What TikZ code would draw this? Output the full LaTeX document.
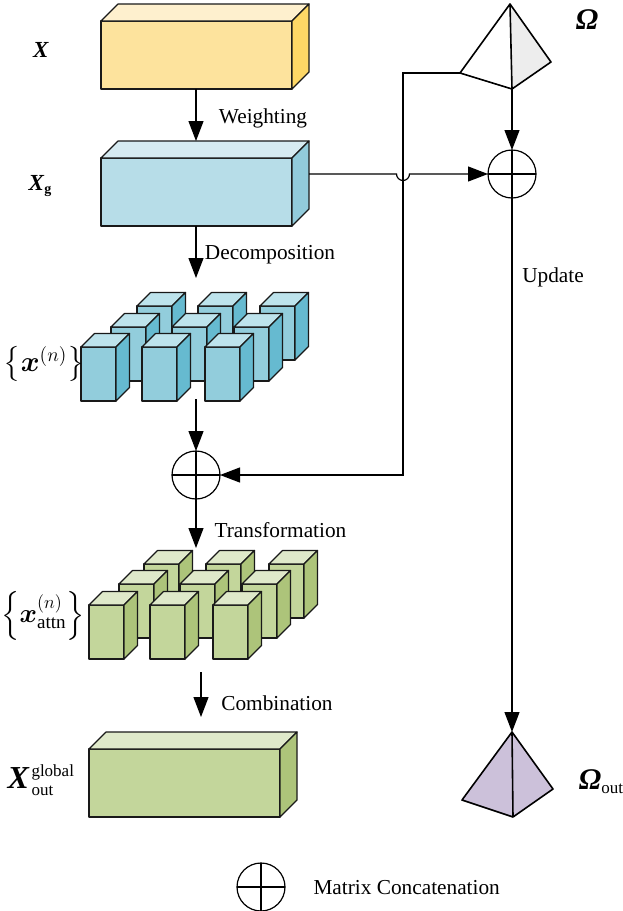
\documentclass[tikz,border=0pt]{standalone}
\usepackage{amsmath}
\usepackage{amssymb}
\usepackage{fontspec}
\setmainfont{Liberation Serif}
\usetikzlibrary{arrows.meta,calc}

\definecolor{yellowF}{HTML}{FDE39D}
\definecolor{yellowT}{HTML}{FEF0CE}
\definecolor{yellowS}{HTML}{FDD766}
\definecolor{paleF}{HTML}{B7DDE8}
\definecolor{paleT}{HTML}{D6EAF1}
\definecolor{paleS}{HTML}{92CBDB}
\definecolor{blueF}{HTML}{92CDDC}
\definecolor{blueT}{HTML}{BDE3EC}
\definecolor{blueS}{HTML}{66BAD0}
\definecolor{greenF}{HTML}{C3D69B}
\definecolor{greenT}{HTML}{DFE9CA}
\definecolor{greenS}{HTML}{ADC47A}
\definecolor{lilacF}{HTML}{CCC1DA}

\tikzset{
  every node/.style={font=\fontsize{21.3}{25}\selectfont},
  face/.style={draw=black!90,line width=1.2pt,line join=round},
  arr/.style={-{Triangle[length=20pt,width=15pt]},line width=1.2pt,black},
  line/.style={line width=1.2pt,black},
  concat/.style={circle,draw=black,line width=1.2pt,minimum size=48pt,inner sep=0pt,outer sep=0pt},
  pyr/.style={draw=black,line width=1.6pt,line join=round},
}

% name, left, top, width, height, depth, colour prefix
\newcommand{\cuboid}[7]{
  \node[face,fill=#7F,anchor=north west,minimum width=#4pt,minimum height=#5pt,inner sep=0pt,outer sep=0pt] (#1) at (#2,#3) {};
  \fill[#7T,face] (#1.north west) -- ++(#6,-#6) -- ++(#4,0) -- (#1.north east) -- cycle;
  \fill[#7S,face] (#1.north east) -- ++(#6,-#6) -- ++(0,#5) -- (#1.south east) -- cycle;
}

\begin{document}
\begin{tikzpicture}[x=1pt,y=-1pt]
  \useasboundingbox (0,0) rectangle (623,911);

  % big blocks
  \cuboid{inp}{101}{21}{191}{68}{17}{yellow}
  \cuboid{weighted}{101}{158}{191}{68}{17}{pale}
  \cuboid{combined}{89}{749}{191}{68}{17}{green}

  % blue cubes, back row first
  \foreach \n/\cx/\cy in {a/137/306, b/198/306, c/260/306,
                          d/111/327, e/172/327, f/234/327,
                          g/81/347, h/142/347, i/205/347} {
    \cuboid{blue\n}{\cx}{\cy}{35}{54}{13.5}{blue}
  }

  % green cubes, back row first
  \foreach \n/\cx/\cy in {a/144/564, b/206/564, c/269/564,
                          d/119/584, e/180/584, f/242/584,
                          g/89/605, h/150/605, i/213/605} {
    \cuboid{green\n}{\cx}{\cy}{35}{54}{13.5}{green}
  }

  % pyramids
  \coordinate (omegatop) at (510,4);
  \coordinate (omegaleft) at (460,73);
  \coordinate (omegabot) at (512,89);
  \coordinate (omegaright) at (551,62);
  \coordinate (outtop) at (512,732);
  \coordinate (outleft) at (462,800);
  \coordinate (outbot) at (513,817);
  \coordinate (outright) at (553,789);
  \fill[black!7] (omegatop) -- (omegaright) -- (omegabot) -- cycle;
  \draw[pyr] (omegatop) -- (omegaleft) -- (omegabot) -- (omegaright) -- cycle (omegatop) -- (omegabot);
  \draw[pyr,fill=lilacF] (outtop) -- (outleft) -- (outbot) -- (outright) -- cycle (outtop) -- (outbot);

  % concatenation circles
  \node[concat] (plusa) at (196,475) {};
  \node[concat] (plusb) at (512,174) {};
  \node[concat] (pluskey) at (261,887) {};
  \foreach \n in {plusa,plusb,pluskey} {
    \draw[line] (\n.north) -- (\n.south) (\n.west) -- (\n.east);
  }

  % left column
  \coordinate (weightedtop) at (196,141);
  \coordinate (blockone) at (196,278);
  \coordinate (cubesout) at (196,399);
  \coordinate (greenin) at (196,548);
  \coordinate (greenout) at (201,672);
  \coordinate (combinedin) at (201,717);
  \draw[arr] (inp.south -| weightedtop) -- (weightedtop);
  \draw[arr] (weighted.south -| blockone) -- (blockone);
  \draw[arr] (cubesout) -- (plusa.north);
  \draw[arr] (plusa.south) -- (greenin);
  \draw[arr] (greenout) -- (combinedin);

  % right column
  \draw[arr] (omegabot) -- (plusb.north);
  \draw[arr] (plusb.south) -- (outtop);

  % links across
  \coordinate (turn) at (403,73);
  \coordinate (sideout) at (309,174);
  \draw[arr] (omegaleft) -- (turn) |- (plusa.east);
  \draw[arr] (sideout) -- (396.5,174) arc[start angle=180,end angle=0,radius=6.5] -- (plusb.west);

  % captions
  \node (weightlab) at (263,118) {Weighting};
  \node (decomplab) at (270,255) {Decomposition};
  \node (updatelab) at (553,277) {Update};
  \node (translab) at (280.5,530) {Transformation};
  \node (comblab) at (277,703) {Combination};
  \node[anchor=west] (keylab) at (310,888) {Matrix Concatenation};

  % symbols
  \node (xlab) at (41,50) {\fontsize{23}{25}\selectfont\textbf{\textit{X}}};
  \node (xglab) at (40,186) {\fontsize{23}{25}\selectfont\textbf{\textit{X}}\raisebox{-3pt}{\fontsize{14}{14}\selectfont\textbf{g}}};
  \node[scale=1.38] (cubeslab) at (44,364) {$\left\{\boldsymbol{x}^{(n)}\right\}$};
  \node[scale=1.28] (attnlab) at (43,616) {$\left\{\boldsymbol{x}_{\mathrm{attn}}^{(n)}\right\}$};
  \node (outlab) at (41,780) {\fontsize{32}{32}\selectfont\textbf{\textit{X}}\kern2pt$^{\text{\fontsize{17}{17}\selectfont global}}_{\text{\fontsize{17}{17}\selectfont out}}$};
  \node (omegalab) at (587,20) {\fontsize{30}{30}\selectfont\textbf{\textit{Ω}}};
  \node (omegaoutlab) at (601,782) {\fontsize{30}{30}\selectfont\textbf{\textit{Ω}}\raisebox{-4pt}{\fontsize{17}{17}\selectfont out}};
\end{tikzpicture}
\end{document}
